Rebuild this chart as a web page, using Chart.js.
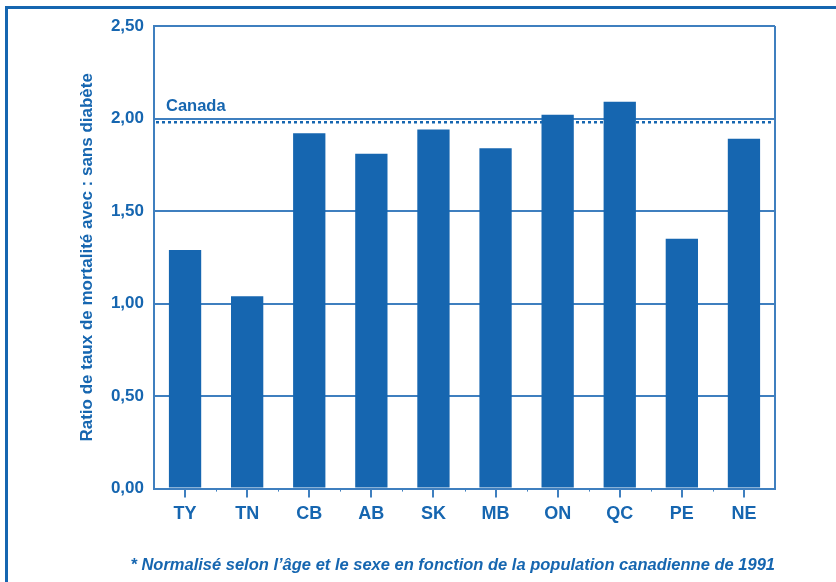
<!DOCTYPE html>
<html>
<head>
<meta charset="utf-8">
<script src="https://cdn.jsdelivr.net/npm/chart.js@4/dist/chart.umd.min.js"></script>
<style>
  html, body { margin: 0; padding: 0; background: #fff; }
  #wrap { position: relative; width: 836px; height: 582px; overflow: hidden; }
  #frame { position: absolute; left: 5px; top: 6px; width: 900px; height: 700px;
           border-left: 3px solid #1666b0; border-top: 3px solid #1666b0; box-sizing: border-box; }
  canvas { position: absolute; left: 0; top: 0; }
</style>
</head>
<body>
<div id="wrap">
  <div id="frame"></div>
  <canvas id="c" width="836" height="582"></canvas>
</div>
<script>
const categories = ["TY", "TN", "CB", "AB", "SK", "MB", "ON", "QC", "PE", "NE"];
const ratios = [1.29, 1.04, 1.92, 1.81, 1.94, 1.84, 2.02, 2.09, 1.35, 1.89];
const canadaValue = [1.98];
const canadaLabel = ["Canada"];
const yTickValues = [0, 0.5, 1, 1.5, 2, 2.5];
const yTitle = "Ratio de taux de mortalité avec : sans diabète";
const footnote = "* Normalisé selon l’âge et le sexe en fonction de la population canadienne de 1991";

const BLUE = "#1666b0";
const GRID = "#3f7fbf";
const FONT = "'Liberation Sans', Arial, sans-serif";

const canadaPlugin = {
  id: "canadaLine",
  afterDatasetsDraw(chart) {
    const { ctx, chartArea, scales } = chart;
    const y = scales.y.getPixelForValue(canadaValue[0]);
    ctx.save();
    ctx.strokeStyle = BLUE;
    ctx.lineWidth = 2.5;
    ctx.setLineDash([3, 3]);
    ctx.beginPath();
    ctx.moveTo(chartArea.left + 2, y);
    ctx.lineTo(chartArea.right - 2, y);
    ctx.stroke();
    ctx.setLineDash([]);
    ctx.fillStyle = BLUE;
    ctx.font = "bold 16.5px " + FONT;
    ctx.textBaseline = "alphabetic";
    ctx.textAlign = "left";
    ctx.fillText(canadaLabel[0], chartArea.left + 12, y - 11);
    ctx.restore();
  }
};

const framePlugin = {
  id: "extraAxisMarks",
  afterDraw(chart) {
    const { ctx, chartArea, scales } = chart;
    ctx.save();
    ctx.strokeStyle = GRID;
    ctx.lineWidth = 2;
    ctx.beginPath();
    ctx.moveTo(chartArea.right, chartArea.top);
    ctx.lineTo(chartArea.right, chartArea.bottom);
    ctx.stroke();
    // small minor marks between categories
    ctx.lineWidth = 1;
    for (let i = 0; i < categories.length - 1; i++) {
      const x = Math.round(scales.x.getPixelForValue(i + 0.5)) + 0.5;
      ctx.beginPath();
      ctx.moveTo(x, chartArea.bottom);
      ctx.lineTo(x, chartArea.bottom + 3);
      ctx.stroke();
    }
    ctx.restore();
  }
};

new Chart(document.getElementById("c"), {
  type: "bar",
  data: {
    labels: categories,
    datasets: [{
      data: ratios,
      backgroundColor: BLUE,
      borderWidth: 0,
      barPercentage: 0.52,
      categoryPercentage: 1.0
    }]
  },
  options: {
    responsive: false,
    animation: false,
    devicePixelRatio: 1,
    layout: { padding: { left: 0, right: 61, top: 26, bottom: 7 } },
    plugins: {
      legend: { display: false },
      tooltip: { enabled: false },
      title: {
        display: true,
        position: "bottom",
        text: footnote,
        color: BLUE,
        align: "end",
        font: { family: FONT, size: 16.5, weight: "bold", style: "italic" },
        padding: { top: 24, bottom: 0 }
      }
    },
    scales: {
      x: {
        offset: true,
        grid: { display: true, drawOnChartArea: false, offset: false, color: GRID, lineWidth: 2, tickLength: 9 },
        border: { display: true, color: GRID, width: 2 },
        ticks: { color: BLUE, font: { family: FONT, size: 18, weight: "bold" }, padding: 6 }
      },
      y: {
        min: 0,
        max: 2.5,
        afterFit(axis) { axis.width = 154; },
        afterBuildTicks(axis) { axis.ticks = yTickValues.map(v => ({ value: v })); },
        grid: { color: GRID, lineWidth: 2, tickLength: 0 },
        border: { display: true, color: GRID, width: 2 },
        ticks: {
          color: BLUE,
          padding: 10,
          font: { family: FONT, size: 17, weight: "bold" },
          callback: v => v.toFixed(2).replace(".", ",")
        },
        title: {
          display: true,
          text: yTitle,
          color: BLUE,
          font: { family: FONT, size: 17, weight: "bold" },
          padding: { top: 77, bottom: 0 }
        }
      }
    }
  },
  plugins: [canadaPlugin, framePlugin]
});
</script>
</body>
</html>
